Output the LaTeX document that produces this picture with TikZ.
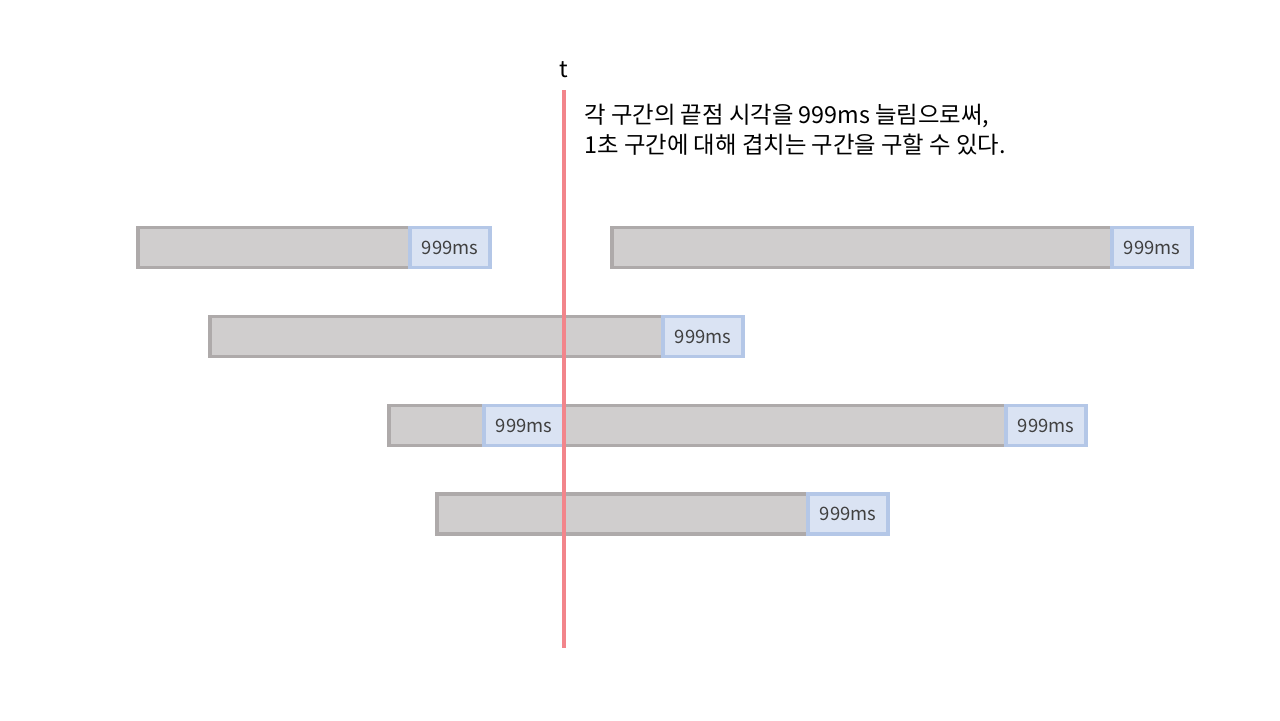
\documentclass[tikz,border=0pt]{standalone}
\usepackage{fontspec}
\setmainfont{Noto Sans CJK KR}
\usetikzlibrary{positioning}

\definecolor{barfill}{HTML}{D0CECE}
\definecolor{bardraw}{HTML}{AEAAAA}
\definecolor{extfill}{HTML}{DAE3F3}
\definecolor{extdraw}{HTML}{B4C7E7}
\definecolor{tline}{HTML}{F2858B}

\begin{document}
\begin{tikzpicture}[x=0.02cm, y=-0.02cm,
    bar/.style={draw=bardraw, fill=barfill, line width=1.8pt, minimum height=0.8cm,
        inner sep=0pt, outer sep=0pt, anchor=west},
    ext/.style={draw=extdraw, fill=extfill, line width=1.8pt, minimum width=1.6cm,
        minimum height=0.8cm, inner sep=0pt, outer sep=0pt, anchor=west,
        text=black!75, font=\fontsize{10.5}{12}\selectfont}]

    % --- 1. 영역 ---
    \useasboundingbox (0,0) rectangle (1280,720);

    % --- 2. 구간 (회색 막대) ---
    \foreach \name/\xl/\xr/\yc in {a/138/410/247.5, b/612/1112/247.5, c/210/663/336.5,
        d/389/1006/425.5, e/437/808/514} {
        \node[bar, minimum width={(\xr-\xl)*0.02cm}] (\name) at (\xl,\yc) {};
    }

    % --- 3. 끝점을 999ms 늘린 부분 ---
    \foreach \name in {a,b,c,d,e} {
        \node[ext] (\name-ext) at (\name.east) {999ms};
    }
    \node[ext] (d-mid) at (484,425.5) {999ms};

    % --- 4. 시각 t ---
    \node (t) at (564,70) {\fontsize{13}{15}\selectfont t};
    \coordinate (t-top) at (564,90);
    \coordinate (t-bot) at (564,648);
    \draw[tline, line width=1.8pt] (t-top) -- (t-bot);

    % --- 5. 설명 ---
    \node[anchor=north west, align=left, inner sep=0pt, font=\fontsize{13.3}{17}\selectfont]
        (note) at (584,104) {각 구간의 끝점 시각을 999ms 늘림으로써,\\1초 구간에 대해 겹치는 구간을 구할 수 있다.};

\end{tikzpicture}
\end{document}
